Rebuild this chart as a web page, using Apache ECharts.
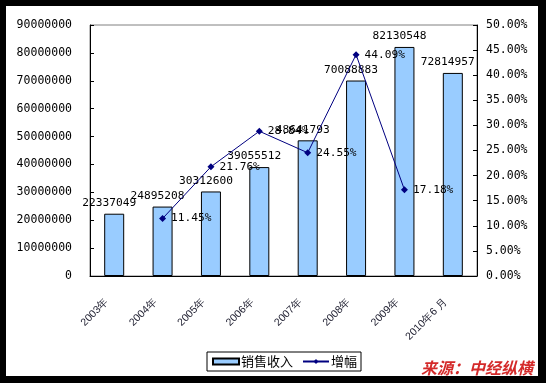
<!DOCTYPE html>
<html><head><meta charset="utf-8">
<script src="https://cdn.jsdelivr.net/npm/echarts@6/dist/echarts.min.js"></script>
<style>html,body{margin:0;padding:0;background:#000}#c{width:546px;height:383px}</style>
</head><body><div id="c"></div>
<script>
var categories = ['2003年','2004年','2005年','2006年','2007年','2008年','2009年','2010年6 月'];
var sales = [22337049, 24895208, 30312600, 39055512, 48641793, 70088883, 82130548, 72814957];
var growth = [null, 11.45, 21.76, 28.84, 24.55, 44.09, 17.18, null];
var seriesNames = ['销售收入', '增幅'];
var sourceText = '来源：中经纵横';

var mono = 'DejaVu Sans Mono';
var chart = echarts.init(document.getElementById('c'));
chart.setOption({
  backgroundColor: '#000',
  animation: false,
  graphic: [
    {type:'rect', z:-10, shape:{x:6,y:6,width:532,height:370}, style:{fill:'#fff'}},
    {type:'text', left:421, top:360, z:10, style:{text:sourceText, fill:'#d42a2a', font:'italic bold 16px "Noto Sans CJK SC"'}}
  ],
  grid: {left:90, right:69, top:25, bottom:107, show:true, borderColor:'#808080', borderWidth:1, backgroundColor:'transparent'},
  legend: {
    left:207, top:352, padding:[3,4,3,5], itemGap:9, itemWidth:26, itemHeight:6,
    borderColor:'#000', borderWidth:1, backgroundColor:'#fff',
    textStyle:{fontFamily:'Noto Sans CJK SC', fontSize:13, color:'#000', padding:[0,0,0,-3]},
    data:[{name:seriesNames[0], icon:'rect'}, {name:seriesNames[1]}]
  },
  xAxis: {
    type:'category', data:categories,
    axisLine:{lineStyle:{color:'#000', width:1}},
    axisTick:{inside:true, length:4, lineStyle:{color:'#000'}, alignWithLabel:false},
    axisLabel:{rotate:45, margin:17, padding:[0,10,0,0], fontSize:10.5, color:'#223', fontFamily:'Liberation Sans', interval:0}
  },
  yAxis: [
    {type:'value', min:0, max:90000000, interval:10000000,
     axisLine:{show:true, lineStyle:{color:'#000'}},
     axisTick:{show:true, inside:true, length:4, lineStyle:{color:'#000'}},
     splitLine:{show:false},
     axisLabel:{margin:18, fontFamily:mono, fontSize:11.5, color:'#000', formatter:function(v){return String(v);}}},
    {type:'value', min:0, max:50, interval:5, position:'right',
     axisLine:{show:true, lineStyle:{color:'#000'}},
     axisTick:{show:true, inside:true, length:4, lineStyle:{color:'#000'}},
     splitLine:{show:false},
     axisLabel:{margin:9, fontFamily:mono, fontSize:11.5, color:'#000', formatter:function(v){return v.toFixed(2)+'%';}}}
  ],
  series: [
    {name:seriesNames[0], type:'bar', data:sales, barWidth:20,
     itemStyle:{color:'#99ccff', borderColor:'#000', borderWidth:1},
     label:{show:true, position:'top', distance:5, offset:[-5,0], fontFamily:mono, fontSize:11.2, color:'#000'}},
    {name:seriesNames[1], type:'line', yAxisIndex:1, data:growth,
     symbol:'diamond', symbolSize:7,
     lineStyle:{color:'#000080', width:1}, itemStyle:{color:'#000080'},
     label:{show:true, position:'right', distance:5, fontFamily:mono, fontSize:11.2, color:'#000',
       formatter:function(p){return p.value==null?'':p.value.toFixed(2)+'%';}}}
  ]
});
</script></body></html>
